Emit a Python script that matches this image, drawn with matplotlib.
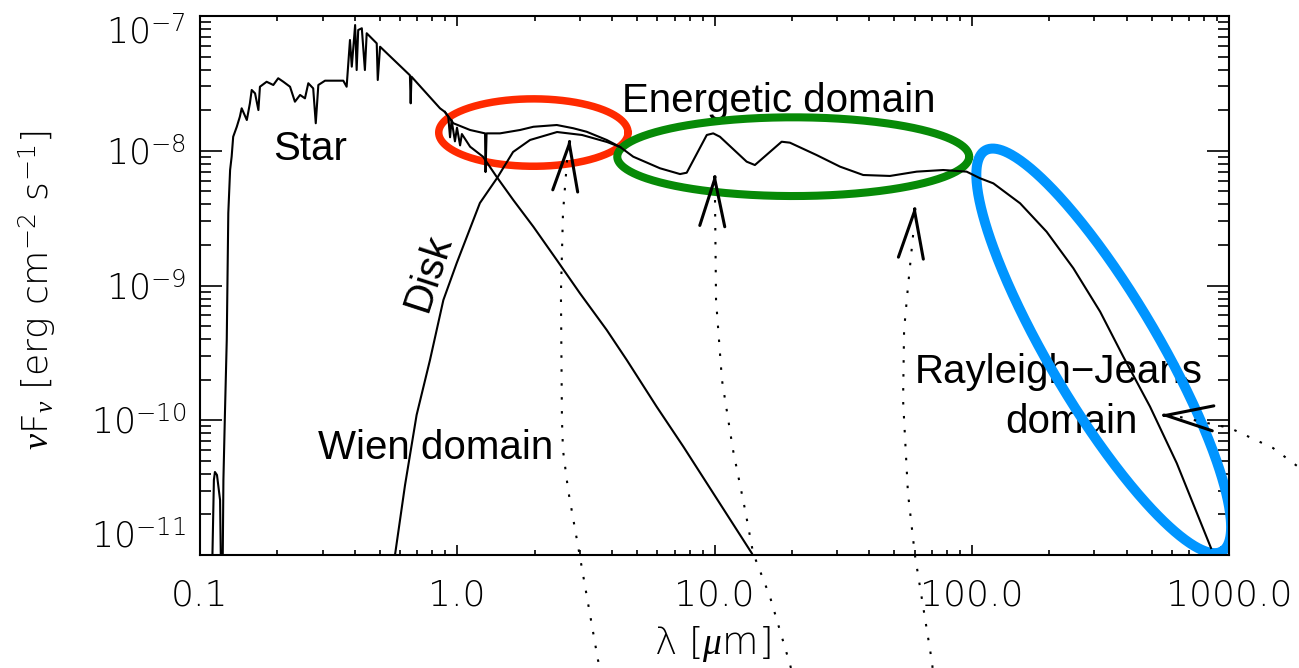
import numpy as np
import matplotlib
matplotlib.use("Agg")
import matplotlib.pyplot as plt
from matplotlib.ticker import NullFormatter

plt.rcParams["font.family"] = ["Liberation Sans", "DejaVu Sans"]
plt.rcParams["mathtext.fontset"] = "custom"
plt.rcParams["mathtext.rm"] = "DejaVu Sans:light"
plt.rcParams["mathtext.it"] = "Liberation Serif:italic"
plt.rcParams["mathtext.bf"] = "DejaVu Sans:bold"

# spectra as log10(lambda/um) and log10(nuFnu)
star_loglam = [-0.955, -0.946, -0.942, -0.934, -0.922, -0.917, -0.913, -0.909, -0.903, -0.896,
               -0.890, -0.883, -0.877, -0.871, -0.857, -0.845, -0.838, -0.818, -0.806, -0.799,
               -0.786, -0.773, -0.767, -0.741, -0.715, -0.696, -0.676, -0.650, -0.631, -0.611,
               -0.592, -0.579, -0.560, -0.550, -0.540, -0.514, -0.443, -0.430, -0.417, -0.410,
               -0.397, -0.391, -0.385, -0.371, -0.359, -0.352, -0.313, -0.309, -0.300, -0.184,
               -0.181, -0.178, -0.067, -0.048, -0.035, -0.028, -0.022, -0.009, -0.001, 0.011,
               0.018, 0.050, 0.100, 0.153, 0.218, 0.296, 0.387, 0.477, 0.581, 0.659,
               0.775, 0.879, 1.145, 1.177]
star_logf = [-11.33, -10.443, -10.384, -10.406, -10.592, -11.33, -11.33, -10.443, -9.946, -9.404,
             -8.462, -8.143, -8.044, -7.896, -7.822, -7.747, -7.685, -7.772, -7.648, -7.549,
             -7.574, -7.698, -7.525, -7.488, -7.512, -7.462, -7.488, -7.525, -7.636, -7.586,
             -7.611, -7.499, -7.537, -7.796, -7.512, -7.480, -7.480, -7.525, -7.178, -7.376,
             -7.067, -7.401, -7.104, -7.091, -7.401, -7.128, -7.203, -7.475, -7.228, -7.44,
             -7.648, -7.45, -7.685, -7.712, -7.747, -7.90, -7.772, -7.93, -7.829, -7.96,
             -7.876, -7.970, -8.044, -8.193, -8.366, -8.564, -8.811, -9.058, -9.330, -9.553,
             -9.899, -10.196, -10.987, -11.111]

total_loglam = [-0.048, -0.015, 0.050, 0.108, 0.110, 0.114, 0.166, 0.244, 0.296, 0.387,
                0.451, 0.503, 0.581, 0.633]
total_logf = [-7.712, -7.796, -7.846, -7.871, -8.158, -7.871, -7.871, -7.846, -7.822, -7.809,
              -7.833, -7.859, -7.920, -7.972]

disk_loglam = [-0.246, -0.242, -0.203, -0.158, -0.106, -0.054, -0.002, 0.088, 0.155, 0.217,
               0.283, 0.388, 0.485, 0.582, 0.633, 0.684, 0.788, 0.866, 0.892, 0.970,
               0.995, 1.021, 1.125, 1.157, 1.261, 1.293, 1.397, 1.488, 1.578, 1.682,
               1.786, 1.889, 1.980, 2.032, 2.084, 2.188, 2.291, 2.395, 2.499, 2.589,
               2.693, 2.797, 2.930]
disk_logf = [-11.334, -11.0, -10.481, -9.961, -9.553, -9.108, -8.833, -8.388, -8.202, -8.009,
             -7.920, -7.861, -7.883, -7.935, -7.972, -8.044, -8.130, -8.173, -8.163, -7.883,
             -7.871, -7.896, -8.081, -8.106, -7.933, -7.940, -8.032, -8.118, -8.180, -8.187,
             -8.155, -8.143, -8.155, -8.204, -8.242, -8.390, -8.601, -8.872, -9.194, -9.528,
             -9.899, -10.319, -10.948]

# dotted guide lines (leave the frame towards other panels)
guide1_loglam = [0.427, 0.411, 0.403, 0.407, 0.411, 0.431, 0.477, 0.547, 0.559]
guide1_logf = [-8.069, -8.462, -9.056, -9.998, -10.221, -10.518, -11.015, -11.779, -11.868]
guide2_loglam = [1.002, 1.006, 1.029, 1.072, 1.119, 1.150, 1.216, 1.294, 1.301]
guide2_logf = [-8.366, -9.108, -9.701, -10.221, -10.666, -10.985, -11.312, -11.816, -11.868]
guide3_loglam = [1.772, 1.752, 1.737, 1.733, 1.752, 1.779, 1.846, 1.849]
guide3_logf = [-8.625, -9.011, -9.330, -9.850, -10.540, -11.0, -11.801, -11.868]
guide4_loglam = [2.810, 3.004, 3.171, 3.296]
guide4_logf = [-9.976, -10.058, -10.206, -10.384]

# open arrow heads: tip position and pointing direction (deg)
arrow_lam = [2.74, 10.05, 60.2, 539.0]
arrow_f = [1.245e-8, 6.84e-9, 3.95e-9, 1.094e-10]
arrow_dir = [85.0, 87.0, 85.5, 176.4]

# highlighted domains: centre (log lam, log F), semi-axes in x-decades, tilt
ring_center = [(0.296, -7.865), (1.306, -8.044), (2.513, -9.485)]
ring_axes = [(0.368, 0.131), (0.684, 0.153), (0.905, 0.211)]
ring_tilt = [0.0, 0.0, -59.4]
ring_color = ["#ff2a00", "#078a07", "#0095ff"]
ring_lw = [5.4, 5.8, 7.2]

xticks = [0.1, 1.0, 10.0, 100.0, 1000.0]
xticklabels = ["0.1", "1.0", "10.0", "100.0", "1000.0"]
yticks = [1e-11, 1e-10, 1e-9, 1e-8, 1e-7]
yticklabels = [r"$10^{-11}$", r"$10^{-10}$", r"$10^{-9}$", r"$10^{-8}$", r"$10^{-7}$"]

W, H = 1299, 668
fig = plt.figure(figsize=(W / 100, H / 100), dpi=100)
ax = fig.add_axes([200 / W, 113 / H, 1029 / W, 539 / H])
ax.set_xscale("log")
ax.set_yscale("log")
ax.set_xlim(0.1, 1000)
ax.set_ylim(1e-11, 1e-7)


def p10(v):
    return 10.0 ** np.asarray(v)


lw = 1.5
ax.plot(p10(star_loglam), p10(star_logf), color="k", lw=lw, zorder=3)
ax.plot(p10(total_loglam), p10(total_logf), color="k", lw=lw, zorder=3)
ax.plot(p10(disk_loglam), p10(disk_logf), color="k", lw=lw, zorder=3)

for gx, gy in [(guide1_loglam, guide1_logf), (guide2_loglam, guide2_logf),
               (guide3_loglam, guide3_logf), (guide4_loglam, guide4_logf)]:
    ax.plot(p10(gx), p10(gy), color="k", lw=1.5, ls=(0, (1.2, 5.5)),
            clip_on=False, zorder=3)

for xt, yt, d in zip(arrow_lam, arrow_f, arrow_dir):
    dx = -np.cos(np.radians(d)) * 3
    dy = -np.sin(np.radians(d)) * 3
    ax.annotate("", xy=(xt, yt), xytext=(dx, dy), textcoords="offset points",
                arrowprops=dict(arrowstyle="->,head_length=3.4,head_width=0.9",
                                mutation_scale=10, lw=2.2, color="k",
                                shrinkA=0, shrinkB=0), zorder=4)

# pixel per decade ratio, to draw the rings round on screen
pos = ax.get_position()
xdec = pos.width * W / 4.0
ydec = pos.height * H / 4.0
t = np.linspace(0, 2 * np.pi, 500)
for (cx, cy), (a, b), th, col, rlw in zip(ring_center, ring_axes, ring_tilt, ring_color, ring_lw):
    th = np.radians(th)
    ex = cx + a * np.cos(t) * np.cos(th) - b * np.sin(t) * np.sin(th)
    ey = cy + (a * np.cos(t) * np.sin(th) + b * np.sin(t) * np.cos(th)) * xdec / ydec
    ax.plot(p10(ex), p10(ey), color=col, lw=rlw, zorder=2, solid_capstyle="round")

fs = 29
ax.text(0.268, 10 ** -8.069, "Star", fontsize=fs, ha="center", va="baseline", zorder=1)
ax.text(0.769, 1.26e-9, "Disk", fontsize=fs, ha="center", va="center",
        rotation=72, rotation_mode="anchor", zorder=1)
ax.text(0.823, 10 ** -10.288, "Wien domain", fontsize=fs, ha="center", va="baseline", zorder=1)
ax.text(17.7, 10 ** -7.712, "Energetic domain", fontsize=fs, ha="center", va="baseline", zorder=1)
ax.text(218, 10 ** -9.724, "Rayleigh\u2212Jeans", fontsize=fs, ha="center", va="baseline", zorder=1)
ax.text(244, 10 ** -10.095, "domain", fontsize=fs, ha="center", va="baseline", zorder=1)

# axes frame, IDL-like inward ticks on all four sides
for s in ax.spines.values():
    s.set_linewidth(1.5)
ax.tick_params(which="both", direction="in", top=True, right=True, width=1.2)
ax.tick_params(axis="x", which="major", length=7.2, pad=17, labelsize=26)
ax.tick_params(axis="x", which="minor", length=3.6)
ax.tick_params(axis="y", which="major", length=15.5, pad=10, labelsize=25)
ax.tick_params(axis="y", which="minor", length=8)
ax.set_xticks(xticks)
ax.set_xticklabels(xticklabels, family="DejaVu Sans", fontweight="light")
ax.set_yticks(yticks)
ax.set_yticklabels(yticklabels)
ax.xaxis.set_minor_formatter(NullFormatter())
ax.yaxis.set_minor_formatter(NullFormatter())
ylabs = ax.get_yticklabels()
ylabs[0].set_va("bottom")
ylabs[-1].set_va("top")

fig.text(712 / W, 4 / H, "\u03bb [$\\mu$m]", fontsize=27, ha="center", va="bottom",
         family="DejaVu Sans", fontweight="light")
fig.text(37 / W, 1 - 290 / H, r"$\nu$F$_\nu$ [erg cm$^{-2}$ s$^{-1}$]", fontsize=26,
         rotation=90, ha="center", va="center", family="DejaVu Sans", fontweight="light")

fig.savefig("out.png", dpi=100)
